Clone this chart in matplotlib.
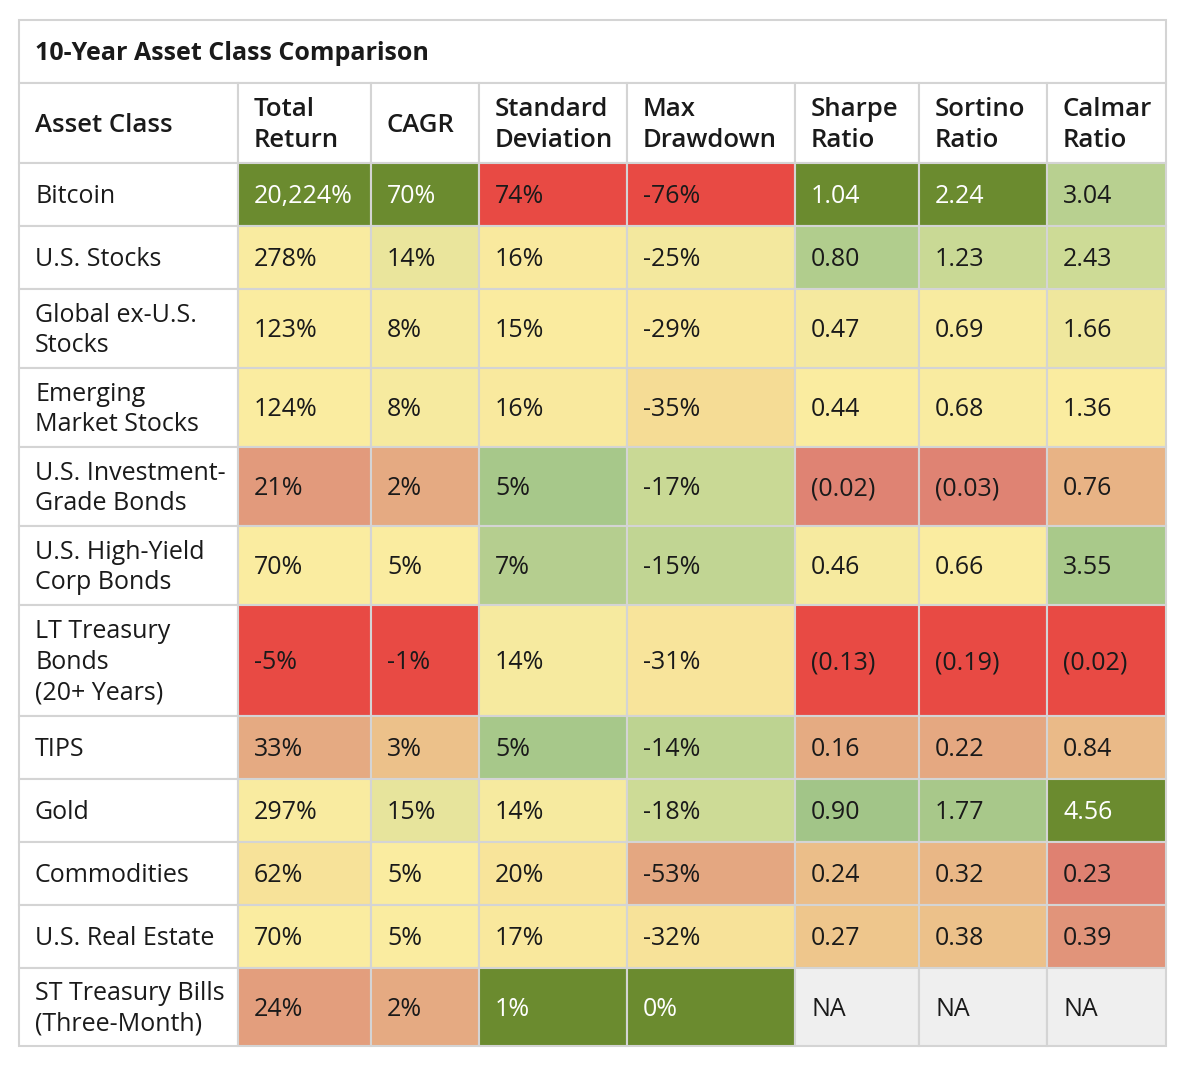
import numpy as np
import matplotlib
matplotlib.use("Agg")
import matplotlib.pyplot as plt
from matplotlib.patches import Rectangle
from matplotlib.colors import LinearSegmentedColormap, TwoSlopeNorm

plt.rcParams['font.family'] = ['Open Sans', 'Noto Sans', 'DejaVu Sans']

# Data
title = "10-Year Asset Class Comparison"
headers = ["Asset Class", "Total\nReturn", "CAGR", "Standard\nDeviation", "Max\nDrawdown",
           "Sharpe\nRatio", "Sortino\nRatio", "Calmar\nRatio"]
assets = ["Bitcoin", "U.S. Stocks", "Global ex-U.S.\nStocks", "Emerging\nMarket Stocks",
          "U.S. Investment-\nGrade Bonds", "U.S. High-Yield\nCorp Bonds",
          "LT Treasury\nBonds\n(20+ Years)", "TIPS", "Gold", "Commodities",
          "U.S. Real Estate", "ST Treasury Bills\n(Three-Month)"]
total_return = [20224, 278, 123, 124, 21, 70, -5, 33, 297, 62, 70, 24]
cagr = [70, 14, 8, 8, 2, 5, -1, 3, 15, 5, 5, 2]
std_dev = [74, 16, 15, 16, 5, 7, 14, 5, 14, 20, 17, 1]
max_drawdown = [-76, -25, -29, -35, -17, -15, -31, -14, -18, -53, -32, 0]
sharpe = [1.04, 0.80, 0.47, 0.44, -0.02, 0.46, -0.13, 0.16, 0.90, 0.24, 0.27, np.nan]
sortino = [2.24, 1.23, 0.69, 0.68, -0.03, 0.66, -0.19, 0.22, 1.77, 0.32, 0.38, np.nan]
calmar = [3.04, 2.43, 1.66, 1.36, 0.76, 3.55, -0.02, 0.84, 4.56, 0.23, 0.39, np.nan]

columns = [total_return, cagr, std_dev, max_drawdown, sharpe, sortino, calmar]
higher_better = [True, True, False, True, True, True, True]
kinds = ["pct_comma", "pct", "pct", "pct", "ratio", "ratio", "ratio"]

# layout (pixels)
col_edges = [19, 238, 371, 479, 627, 795, 919, 1047, 1166]
row_edges = [20, 83, 163, 226, 289, 368, 447, 526, 605, 716, 779, 842, 905, 968, 1046]

# red - yellow - green scale
stops = [
    (0.000, (232, 74, 68)),
    (0.100, (222, 135, 118)),
    (0.175, (226, 155, 124)),
    (0.250, (229, 170, 130)),
    (0.325, (235, 190, 137)),
    (0.425, (246, 222, 150)),
    (0.500, (250, 236, 160)),
    (0.540, (242, 232, 158)),
    (0.675, (203, 218, 150)),
    (0.775, (182, 207, 143)),
    (0.850, (168, 200, 138)),
    (0.900, (160, 196, 135)),
    (1.000, (107, 139, 47)),
]
cmap = LinearSegmentedColormap.from_list(
    "ryg", [(p, tuple(c / 255 for c in rgb)) for p, rgb in stops])


def fmt(v, kind):
    if np.isnan(v):
        return "NA"
    if kind == "pct_comma":
        return f"{v:,.0f}%"
    if kind == "pct":
        return f"{v:.0f}%"
    if v < 0:
        return f"({abs(v):.2f})"
    return f"{v:.2f}"


fig = plt.figure(figsize=(12, 10.72), dpi=100)
ax = fig.add_axes([0, 0, 1, 1])
ax.set_xlim(0, 1200)
ax.set_ylim(1072, 0)
ax.axis("off")

grid = "#d4d4d4"
txt = "#1a1a1a"
fs = 18
pad = 16
ls = 1.3

# title row
x0, x1 = col_edges[0], col_edges[-1]
ax.add_patch(Rectangle((x0, row_edges[0]), x1 - x0, row_edges[1] - row_edges[0],
                       facecolor="white", edgecolor=grid, lw=1.5))
ax.text(x0 + pad, (row_edges[0] + row_edges[1]) / 2 + 2, title, fontsize=18,
        fontweight="bold", color=txt, va="center", ha="left")

# header row
for j, h in enumerate(headers):
    ax.add_patch(Rectangle((col_edges[j], row_edges[1]), col_edges[j + 1] - col_edges[j],
                           row_edges[2] - row_edges[1], facecolor="white",
                           edgecolor=grid, lw=1.5))
    ax.text(col_edges[j] + pad, (row_edges[1] + row_edges[2]) / 2 + 2, h,
            fontsize=18.5, fontweight="semibold", color=txt, va="center", ha="left",
            linespacing=ls)

# body
for i, name in enumerate(assets):
    y0, y1 = row_edges[i + 2], row_edges[i + 3]
    ym = (y0 + y1) / 2
    ax.add_patch(Rectangle((col_edges[0], y0), col_edges[1] - col_edges[0], y1 - y0,
                           facecolor="white", edgecolor=grid, lw=1.5))
    ax.text(col_edges[0] + pad, ym + 2, name, fontsize=fs, color=txt,
            va="center", ha="left", linespacing=ls)

for j, vals in enumerate(columns):
    arr = np.array(vals, dtype=float)
    valid = arr[~np.isnan(arr)]
    lo, mid, hi = valid.min(), np.median(valid), valid.max()
    norm = TwoSlopeNorm(vcenter=mid, vmin=lo, vmax=hi)
    for i, v in enumerate(arr):
        y0, y1 = row_edges[i + 2], row_edges[i + 3]
        cx0, cx1 = col_edges[j + 1], col_edges[j + 2]
        if np.isnan(v):
            fc = "#efefef"
            t = 0.5
        else:
            t = float(norm(v))
            if not higher_better[j]:
                t = 1 - t
            fc = cmap(t)
        ax.add_patch(Rectangle((cx0, y0), cx1 - cx0, y1 - y0, facecolor=fc,
                               edgecolor=grid, lw=1.5))
        tc = "white" if t > 0.97 else txt
        ax.text(cx0 + pad, (y0 + y1) / 2 + 2, fmt(v, kinds[j]), fontsize=fs,
                color=tc, va="center", ha="left")

fig.savefig("out.png", dpi=100, facecolor="white")
